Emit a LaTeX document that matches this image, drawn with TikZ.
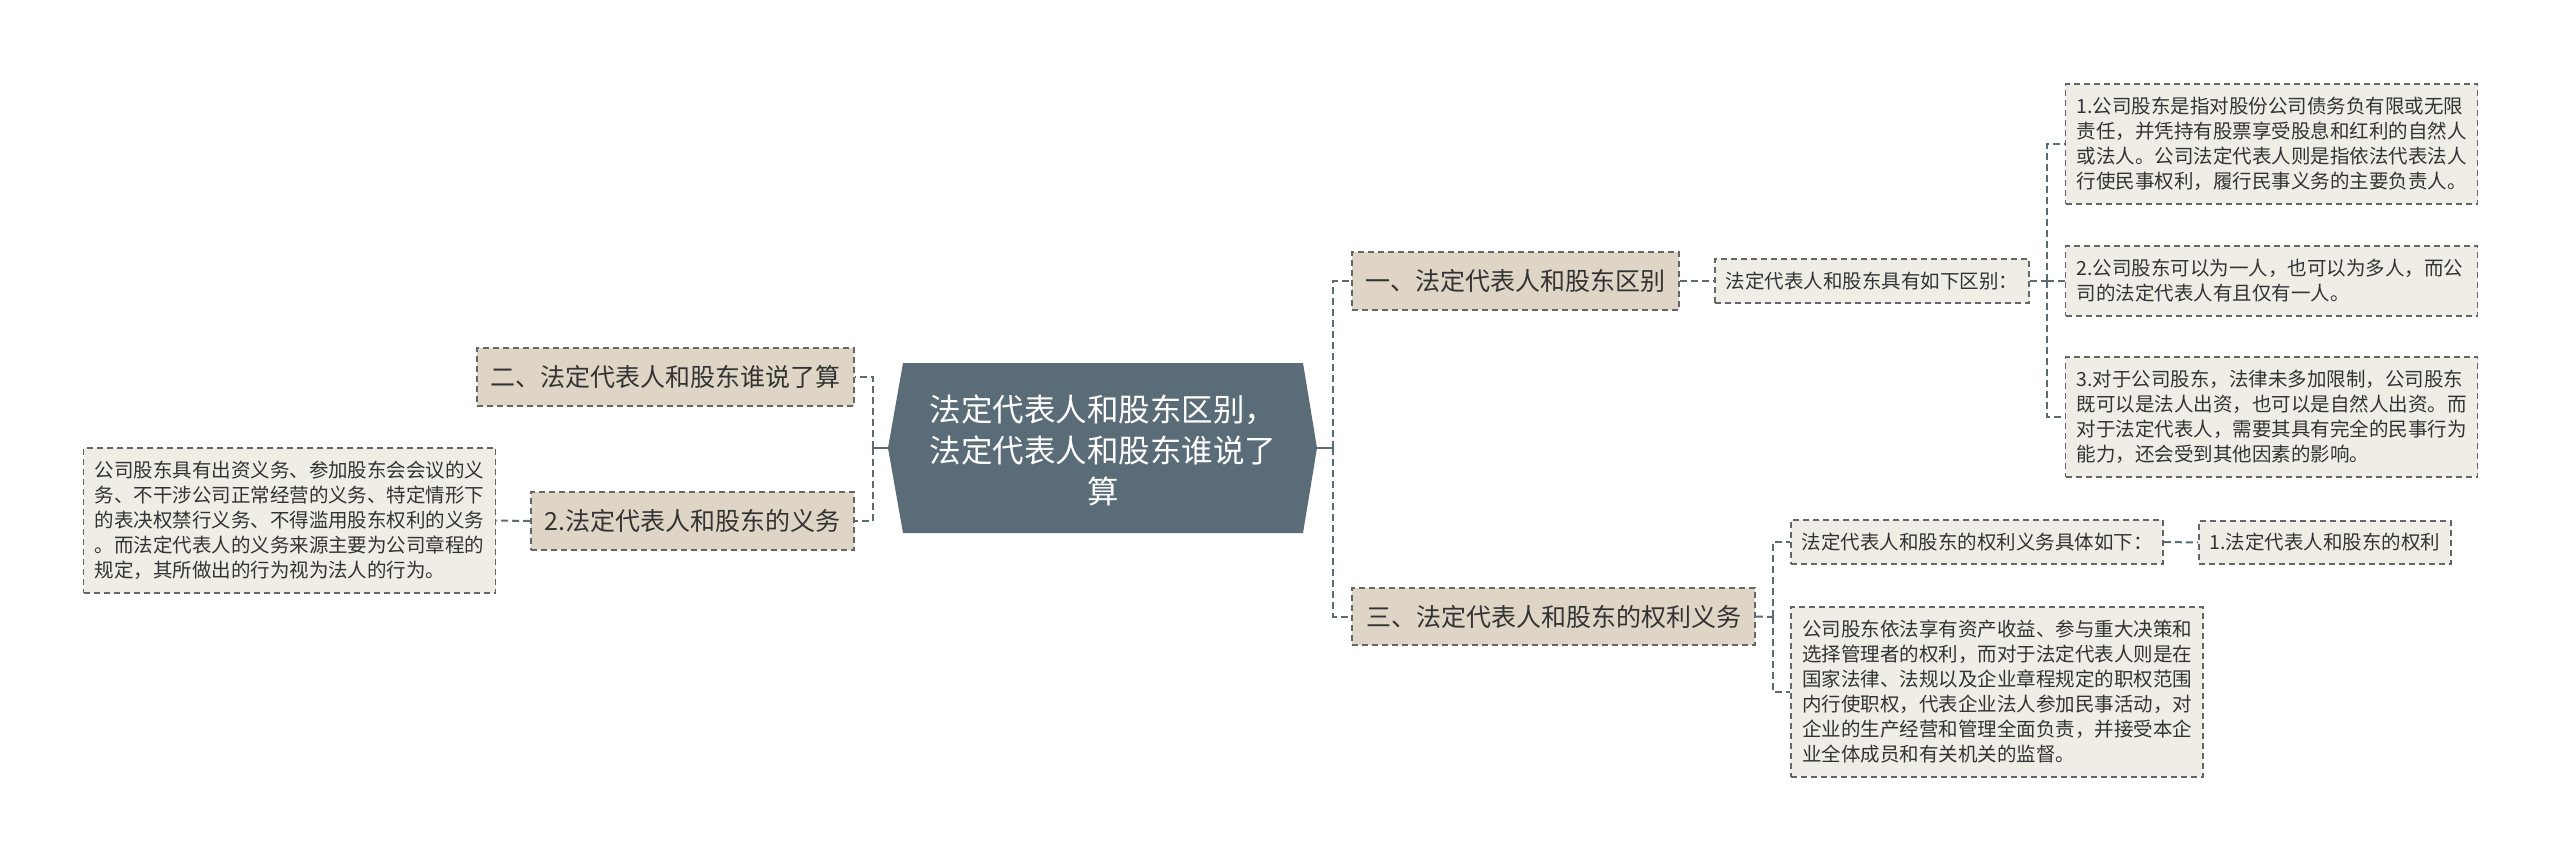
\documentclass[tikz,border=0pt]{standalone}
\usepackage{fontspec}
\newfontfamily\cjk{Noto Sans CJK SC}
\definecolor{rootc}{RGB}{91,108,121}
\definecolor{mainc}{RGB}{222,213,198}
\definecolor{leafc}{RGB}{240,237,231}
\definecolor{bordc}{RGB}{102,102,102}
\definecolor{txtc}{RGB}{51,51,51}
\begin{document}
\begin{tikzpicture}[x=1pt,y=-1pt,
  mainbox/.style={draw=bordc, fill=mainc, dash pattern=on 6pt off 4pt, line width=1.6pt,
    text=txtc, font=\cjk\fontsize{25}{30}\selectfont, inner sep=0pt, minimum height=58pt},
  leafbox/.style={draw=bordc, fill=leafc, dash pattern=on 6pt off 4pt, line width=1.6pt,
    text=txtc, font=\cjk\fontsize{19.5}{25}\selectfont, inner sep=0pt, align=left},
  multileaf/.style={leafbox, text width=390pt, inner xsep=11pt},
  conn/.style={draw=rootc, line width=2pt, dash pattern=on 7pt off 4pt},
  stub/.style={draw=rootc, line width=2pt}
]
\useasboundingbox (0,0) rectangle (2560,861);
\fill[white] (0,0) rectangle (2560,861);

% root hexagon
\coordinate (rootL) at (888,448);
\coordinate (rootR) at (1317,448);
\fill[rootc] (903,363) -- (1303,363) -- (rootR) -- (1303,533) -- (903,533) -- (rootL) -- cycle;
\node[font=\cjk\fontsize{31.5}{41}\selectfont, text=white, align=center, inner sep=0pt] (root) at (1103,450)
  {法定代表人和股东区别，\\法定代表人和股东谁说了\\算};

% level 1
\node[mainbox, minimum width=327pt] (b1) at (1515.5,281) {一、法定代表人和股东区别};
\node[mainbox, minimum width=403pt, minimum height=57pt] (b3) at (1553.5,616.5) {三、法定代表人和股东的权利义务};
\node[mainbox, minimum width=377pt] (b2) at (665.5,377) {二、法定代表人和股东谁说了算};
\node[mainbox, minimum width=323pt] (b2c) at (692.5,521) {2.法定代表人和股东的义务};

% leaves right top
\node[leafbox, minimum width=314pt, minimum height=44pt] (l0) at (1872,281) {法定代表人和股东具有如下区别：};
\node[multileaf, minimum height=120pt] (l1) at (2271.5,144)
  {1.公司股东是指对股份公司债务负有限或无限\\责任，并凭持有股票享受股息和红利的自然人\\或法人。公司法定代表人则是指依法代表法人\\行使民事权利，履行民事义务的主要负责人。};
\node[multileaf, minimum height=70pt] (l2) at (2271.5,281)
  {2.公司股东可以为一人，也可以为多人，而公\\司的法定代表人有且仅有一人。};
\node[multileaf, minimum height=120pt] (l3) at (2271.5,417)
  {3.对于公司股东，法律未多加限制，公司股东\\既可以是法人出资，也可以是自然人出资。而\\对于法定代表人，需要其具有完全的民事行为\\能力，还会受到其他因素的影响。};

% leaves right bottom
\node[leafbox, minimum width=372pt, minimum height=44pt] (r0) at (1977,542) {法定代表人和股东的权利义务具体如下：};
\node[leafbox, minimum width=252pt, minimum height=43pt] (r1) at (2325,542.5) {1.法定代表人和股东的权利};
\node[multileaf, minimum height=170pt] (r2) at (1997,692)
  {公司股东依法享有资产收益、参与重大决策和\\选择管理者的权利，而对于法定代表人则是在\\国家法律、法规以及企业章程规定的职权范围\\内行使职权，代表企业法人参加民事活动，对\\企业的生产经营和管理全面负责，并接受本企\\业全体成员和有关机关的监督。};

% leaf left
\node[multileaf, minimum height=145pt] (ll) at (289.5,520.5)
  {公司股东具有出资义务、参加股东会会议的义\\务、不干涉公司正常经营的义务、特定情形下\\的表决权禁行义务、不得滥用股东权利的义务\\。而法定代表人的义务来源主要为公司章程的\\规定，其所做出的行为视为法人的行为。};

% connectors
\coordinate (jl) at (873,448);
\coordinate (jr) at (1333,448);
\coordinate (j0) at (2047,281);
\coordinate (j3) at (1773,617);
\draw[stub] (rootL) -- (jl);
\draw[stub] (rootR) -- (jr);
\draw[conn] (jl) |- (b2.east);
\draw[conn] (jl) |- (b2c.east);
\draw[conn] (jr) |- (b1.west);
\draw[conn] (jr) |- (b3.west);
\draw[conn] (b1.east) -- (l0.west);
\draw[conn] (l0.east) -- (j0);
\draw[conn] (j0) |- (l1.west);
\draw[conn] (j0) -- (l2.west);
\draw[conn] (j0) |- (l3.west);
\draw[conn] (b3.east) -- (j3);
\draw[conn] (j3) |- (r0.west);
\draw[conn] (j3) |- (r2.west);
\draw[conn] (r0.east) -- (r1.west);
\draw[conn] (b2c.west) -- (ll.east);
\end{tikzpicture}
\end{document}
